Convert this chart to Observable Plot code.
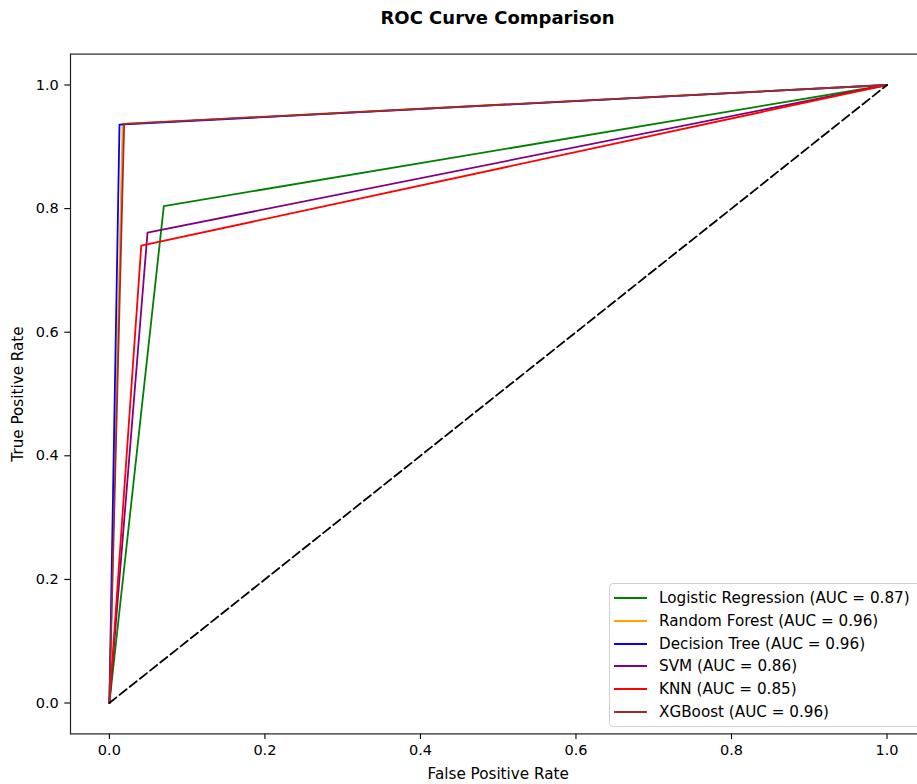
<!DOCTYPE html>
<html>
<head>
<meta charset="utf-8">
<script src="https://cdn.jsdelivr.net/npm/d3@7"></script>
<script src="https://cdn.jsdelivr.net/npm/@observablehq/plot@0.6"></script>
<style>
  html, body { margin: 0; padding: 0; background: #fff; }
  #wrap { position: relative; width: 917px; height: 784px; overflow: hidden; font-family: "DejaVu Sans", sans-serif; }
  #title { position: absolute; left: 0; top: 0; width: 995px; height: 35px; line-height: 35px; text-align: center; font-weight: bold; font-size: 18px; color: #000; }
  #chart { position: absolute; left: 0; top: 36px; width: 926px; }
  #chart svg { max-width: none !important; width: 926px; height: 748px; }
  #legend { position: absolute; left: 609px; top: 583px; width: 330px; height: 144px; box-sizing: border-box;
            border: 1px solid #d0d0d0; border-radius: 4px; background: rgba(255,255,255,0.8); }
  .row { position: absolute; left: 0; height: 20px; display: flex; align-items: center; font-size: 15.2px; color: #000; white-space: nowrap; }
  .sw { width: 33px; height: 0; border-top: 2px solid; margin-left: 4px; margin-right: 12px; }
</style>
</head>
<body>
<div id="wrap">
  <div id="title">ROC Curve Comparison</div>
  <div id="chart"></div>
  <div id="legend"></div>
</div>
<script>
// Data
const models = ["Logistic Regression", "Random Forest", "Decision Tree", "SVM", "KNN", "XGBoost"];
const aucs = [0.87, 0.96, 0.96, 0.86, 0.85, 0.96];
const colors = ["green", "orange", "blue", "purple", "red", "brown"];
const fprMid = [0.070, 0.017, 0.013, 0.049, 0.041, 0.019];
const tprMid = [0.804, 0.937, 0.936, 0.761, 0.740, 0.937];
const chanceX = [0, 1];
const chanceY = [0, 1];
const xTicks = [0.0, 0.2, 0.4, 0.6, 0.8, 1.0];
const yTicks = [0.0, 0.2, 0.4, 0.6, 0.8, 1.0];

(function () {
const labels = models.map((m, i) => `${m} (AUC = ${aucs[i].toFixed(2)})`);
const rocRows = models.flatMap((m, i) => [
  {model: m, fpr: 0, tpr: 0},
  {model: m, fpr: fprMid[i], tpr: tprMid[i]},
  {model: m, fpr: 1, tpr: 1}
]);
const chance = chanceX.map((x, i) => ({fpr: x, tpr: chanceY[i]}));

const W = 926, H = 748;
const mLeft = 70, xRight = 925.4, mTop = 17.6, yBottom = 697.4;

const chart = Plot.plot({
  width: W,
  height: H,
  marginLeft: mLeft,
  marginRight: W - xRight,
  marginTop: mTop,
  marginBottom: H - yBottom,
  style: {fontFamily: "DejaVu Sans, sans-serif", fontSize: "14.5px", color: "#000", background: "#fff", maxWidth: "none"},
  x: {domain: [-0.05, 1.05]},
  y: {domain: [-0.05, 1.05]},
  marks: [
    Plot.axisX({ticks: xTicks, tickFormat: d3.format(".1f"), tickSize: 5.7, tickPadding: 5.5, strokeWidth: 1.1,
      label: null}),
    Plot.axisY({ticks: yTicks, tickFormat: d3.format(".1f"), tickSize: 5.7, tickPadding: 6, strokeWidth: 1.1,
      label: null}),
    Plot.axisX({ticks: [], tickSize: 0, fontSize: 15.2,
      label: "False Positive Rate", labelAnchor: "center", labelArrow: "none", labelOffset: 45}),
    Plot.axisY({ticks: [], tickSize: 0, fontSize: 15.2,
      label: "True Positive Rate", labelAnchor: "center", labelArrow: "none", labelOffset: 58}),
    ...models.map((m, i) => Plot.line(rocRows.filter(d => d.model === m), {
      x: "fpr", y: "tpr", stroke: colors[i], strokeWidth: 1.8
    })),
    Plot.line(chance, {x: "fpr", y: "tpr", stroke: "#000", strokeWidth: 1.8, strokeDasharray: "9,4"}),
    Plot.frame({stroke: "#222", strokeWidth: 1.2})
  ]
});
chart.style.maxWidth = "none";
document.getElementById("chart").appendChild(chart);

const legend = document.getElementById("legend");
labels.forEach((lab, i) => {
  const row = document.createElement("div");
  row.className = "row";
  row.style.top = (4 + i * 22.8) + "px";
  const sw = document.createElement("div");
  sw.className = "sw";
  sw.style.borderTopColor = colors[i];
  const t = document.createElement("span");
  t.textContent = lab;
  row.appendChild(sw);
  row.appendChild(t);
  legend.appendChild(row);
});
})();
</script>
</body>
</html>
